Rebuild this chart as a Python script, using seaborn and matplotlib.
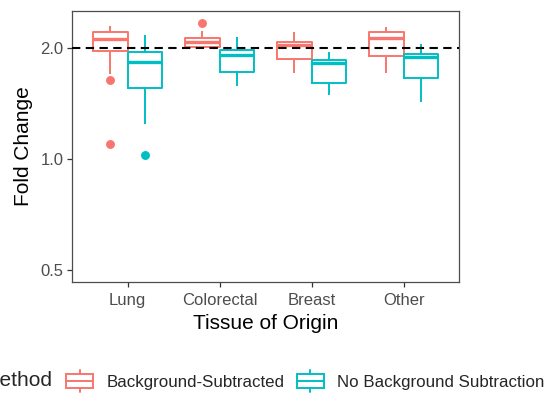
import numpy as np
import pandas as pd
import matplotlib
matplotlib.use("Agg")
import matplotlib.pyplot as plt
from matplotlib.legend_handler import HandlerBase
from matplotlib.lines import Line2D
from matplotlib.patches import Rectangle, Patch
from matplotlib.ticker import NullLocator
import seaborn as sns

# ---- box summaries (fold change) per tissue, for each method ----
tissues = ["Lung", "Colorectal", "Breast", "Other"]
methods = ["Background-Subtracted", "No Background Subtraction"]

bs_whisker_low = [1.700, 1.988, 1.711, 1.711]
bs_q1 = [1.965, 2.012, 1.867, 1.906]
bs_median = [2.116, 2.080, 2.038, 2.137]
bs_q3 = [2.210, 2.129, 2.080, 2.219]
bs_whisker_high = [2.304, 2.233, 2.214, 2.285]
bs_outliers = [[1.100, 1.640], [2.347], [], []]

nbs_whisker_low = [1.247, 1.580, 1.494, 1.433]
nbs_q1 = [1.564, 1.728, 1.607, 1.665]
nbs_median = [1.839, 1.918, 1.821, 1.897]
nbs_q3 = [1.958, 1.979, 1.859, 1.930]
nbs_whisker_high = [2.173, 2.142, 1.951, 2.051]
nbs_outliers = [[1.027], [], [], []]

reference_line = 2.0
yticks = [0.5, 1.0, 2.0]
ytick_labels = ["0.5", "1.0", "2.0"]

colors = {"Background-Subtracted": "#F8766D", "No Background Subtraction": "#00BFC4"}


def observations(lo, q1, med, q3, hi, outs):
    """Sample whose quartiles/whiskers/outliers equal the given summary."""
    low_out = sorted(o for o in outs if o < q1)
    high_out = sorted(o for o in outs if o > q3)
    k = max(len(low_out) + 1, len(high_out) + 1)
    below = low_out + [lo] * (k - len(low_out))
    above = [hi] * (k - len(high_out)) + high_out
    return below + [q1] + [med] * (k - 1) + [med] + [med] * (k - 1) + [q3] + above


rows = []
summaries = {
    methods[0]: (bs_whisker_low, bs_q1, bs_median, bs_q3, bs_whisker_high, bs_outliers),
    methods[1]: (nbs_whisker_low, nbs_q1, nbs_median, nbs_q3, nbs_whisker_high, nbs_outliers),
}
for method, (lo, q1, med, q3, hi, outs) in summaries.items():
    for i, tissue in enumerate(tissues):
        for v in observations(lo[i], q1[i], med[i], q3[i], hi[i], outs[i]):
            rows.append({"Tissue": tissue, "Method": method, "FoldChange": v})
df = pd.DataFrame(rows)

sns.set_theme(style="white")
plt.rcParams["font.family"] = ["Liberation Sans", "DejaVu Sans"]

W, H = 551, 394
fig = plt.figure(figsize=(W / 100, H / 100), dpi=100)
ax = fig.add_axes([72.3 / W, 1 - 281.7 / H, (459 - 72.3) / W, (281.7 - 11.3) / H])

sns.boxplot(
    data=df, x="Tissue", y="FoldChange", hue="Method",
    order=tissues, hue_order=methods, palette=colors,
    fill=False, width=0.75, gap=0, linewidth=1.4, log_scale=2,
    whis=1.5, legend=False, ax=ax,
    medianprops={"linewidth": 2.4},
    capprops={"linewidth": 0},
    flierprops={"marker": "o", "markersize": 5.4},
)

# filled outlier points
for line in ax.lines:
    if line.get_marker() == "o":
        line.set_markerfacecolor(line.get_markeredgecolor())

ax.axhline(reference_line, color="black", linestyle=(0, (4, 2.6)), linewidth=1.5, zorder=5)

ax.set_xlim(-0.6, 3.6)
ax.set_ylim(0.465, 2.52)
ax.set_yticks(yticks)
ax.set_yticklabels(ytick_labels)
ax.yaxis.set_minor_locator(NullLocator())

for sp in ax.spines.values():
    sp.set_color("#4D4D4D")
    sp.set_linewidth(0.9)
ax.tick_params(axis="both", which="major", length=3.3, width=0.9, color="#333333",
               labelcolor="#4D4D4D", labelsize=12, pad=3, left=True, bottom=True)
ax.tick_params(axis="x", pad=4.5)

ax.set_xlabel("Tissue of Origin", fontsize=15, color="black", labelpad=5)
ax.set_ylabel("Fold Change", fontsize=15, color="black", labelpad=5)


class BoxKey(HandlerBase):
    def create_artists(self, legend, orig_handle, xdescent, ydescent,
                       width, height, fontsize, trans):
        c = orig_handle.get_edgecolor()
        x0, y0 = -xdescent, -ydescent
        lw = 1.4
        bh = height * 0.64
        by = y0 + (height - bh) / 2
        cx = x0 + width / 2
        rect = Rectangle((x0, by), width, bh, facecolor="white", edgecolor=c,
                         linewidth=lw, transform=trans)
        med = Line2D([x0, x0 + width], [y0 + height / 2] * 2, color=c, lw=lw, transform=trans)
        top = Line2D([cx, cx], [by + bh, y0 + height], color=c, lw=lw, transform=trans)
        bot = Line2D([cx, cx], [y0, by], color=c, lw=lw, transform=trans)
        return [rect, med, top, bot]


handles = [Patch(edgecolor=colors[m], facecolor="white", label=m) for m in methods]
fig.legend(handles=handles, handler_map={Patch: BoxKey()},
           loc="center left", bbox_to_anchor=(66 / W, 1 - 381 / H), ncol=2,
           frameon=False, fontsize=12.2, handlelength=1.6, handleheight=1.6,
           handletextpad=0.8, columnspacing=0.7, borderpad=0, borderaxespad=0)
fig.text(52 / W, 1 - 381 / H, "Method", fontsize=15, ha="right", va="center")

fig.savefig("out.png", dpi=100)
